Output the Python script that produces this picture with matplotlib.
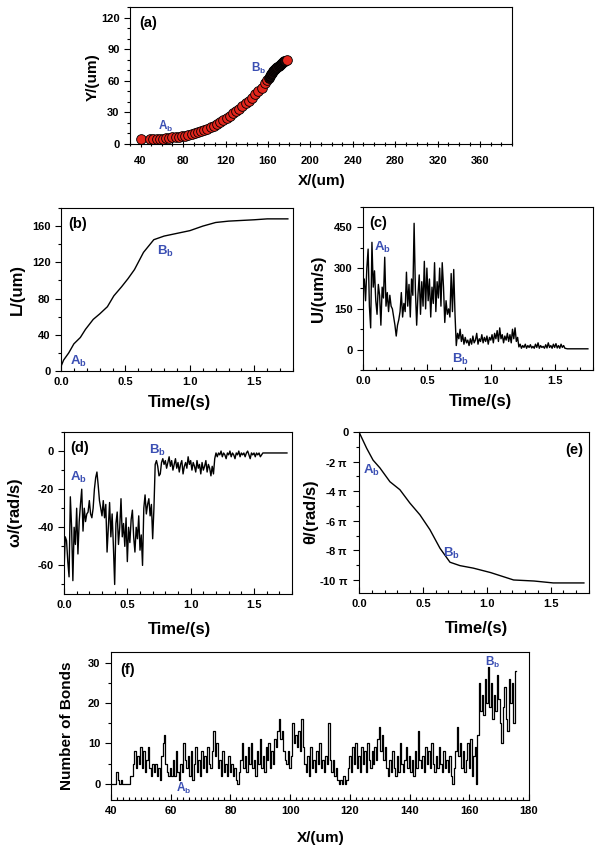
import numpy as np
import matplotlib
matplotlib.use('Agg')
import matplotlib.pyplot as plt
from matplotlib.ticker import MultipleLocator, FixedLocator, FixedFormatter, FormatStrFormatter

plt.rcParams['font.family'] = ['Liberation Sans', 'DejaVu Sans']
plt.rcParams['font.weight'] = 'bold'
plt.rcParams['axes.labelweight'] = 'bold'
plt.rcParams['axes.unicode_minus'] = False
plt.rcParams['mathtext.fontset'] = 'custom'
plt.rcParams['mathtext.rm'] = 'Liberation Sans'
plt.rcParams['mathtext.it'] = 'Liberation Sans:italic'
plt.rcParams['mathtext.bf'] = 'Liberation Sans:bold'

# ---------------- data ----------------
# (a) trajectory
xa_red = [40, 49, 52, 55, 58, 61, 64, 67, 70, 73, 76, 79, 82, 85, 88, 91, 94, 97, 100,
          103, 106, 109, 112, 115, 118, 121, 124, 127, 130, 133, 136, 139, 142, 145,
          148, 151, 154, 157, 159]
ya_red = [5, 5, 5, 5, 5, 5.2, 5.5, 6, 6.3, 6.6, 7, 7.5, 8, 8.5, 9.3, 10, 11, 12, 13,
          14.3, 15.8, 17.3, 19, 20.8, 22.7, 24.6, 26.8, 29, 31.3, 33.6, 36, 38.6, 41.2, 44,
          47, 50, 53.5, 57.5, 60.6]
xa_dark = [161, 162, 163, 164, 165, 166, 167, 168, 169, 170, 171, 172, 173, 174, 175, 176]
ya_dark = [63, 64.5, 66, 67.5, 68.8, 70, 71.2, 72.3, 73.4, 74.4, 75.3, 76.2, 77, 77.8, 78.5, 79.2]
xa_end = [177.5]
ya_end = [79.8]

# (b) L vs time
t_b = [0, 0.02, 0.06, 0.10, 0.15, 0.19, 0.25, 0.30, 0.36, 0.41, 0.47, 0.52, 0.57, 0.64,
       0.72, 0.80, 0.90, 1.00, 1.10, 1.20, 1.30, 1.50, 1.60, 1.76]
L_b = [5, 12, 20, 30, 37, 46, 57, 63, 71, 83, 93, 102, 112, 131, 145, 149, 152, 155, 160,
       164, 165.5, 167, 168, 168]

# (c) U vs time (sampled every 0.01 s)
U_c = [225, 260, 180, 300, 370, 160, 80, 395, 230, 290,
       180, 130, 240, 200, 90, 230, 190, 340, 160, 210,
       140, 200, 160, 150, 120, 90, 50, 90, 110, 140,
       210, 120, 170, 140, 285, 160, 240, 120, 260, 200,
       465, 220, 90, 200, 275, 130, 250, 160, 325, 150,
       300, 180, 260, 120, 230, 170, 320, 140, 250, 190,
       300, 160, 320, 230, 100, 180, 130, 150, 120, 280,
       140, 295, 130, 15, 60, 40, 75, 30, 55, 20,
       45, 25, 35, 15, 40, 20, 50, 25, 35, 60,
       20, 40, 30, 55, 25, 45, 30, 50, 20, 45,
       35, 55, 25, 60, 40, 70, 30, 80, 40, 55,
       25, 50, 35, 60, 30, 55, 25, 75, 40, 80,
       30, 45, 10, 20, 5, 15, 8, 20, 5, 15,
       8, 18, 6, 12, 5, 20, 8, 25, 5, 15,
       8, 12, 5, 18, 6, 25, 8, 15, 5, 20,
       8, 22, 6, 15, 5, 20, 8, 15, 5, 4,
       3, 3, 3, 3, 3, 3, 3, 3, 3, 3,
       3, 3, 3, 3, 3, 3, 3]

# (d) omega vs time (sampled every 0.01 s)
w_d = [-63, -45, -47, -58, -66, -24, -40, -68, -40, -49,
       -30, -54, -37, -28, -20, -42, -30, -37, -33, -32,
       -26, -33, -35, -30, -20, -14, -11, -18, -26, -30,
       -34, -26, -35, -28, -53, -40, -27, -45, -33, -50,
       -70, -38, -32, -49, -40, -25, -45, -38, -50, -35,
       -58, -40, -48, -36, -31, -45, -53, -40, -46, -34,
       -52, -44, -60, -30, -23, -33, -28, -25, -34, -28,
       -46, -30, -7, -5, -8, -13, -12, -6, -4, -7,
       -5, -9, -6, -3, -8, -5, -10, -7, -4, -9,
       -6, -11, -7, -5, -12, -8, -6, -9, -3, -7,
       -5, -10, -6, -8, -11, -5, -9, -7, -12, -6,
       -10, -8, -5, -11, -7, -9, -13, -8, -12, -4,
       -1, -3, -1, -2, 0, -3, -1, -2, -4, -1,
       -2, 0, -3, -1, -2, -4, -1, -2, 0, -3,
       -1, -2, -1, -3, -1, 0, -2, -4, -1, -2,
       -1, -3, -1, -2, -1, -3, -2, -1, -1, -1,
       -1, -1, -1, -1, -1, -1, -1, -1, -1, -1,
       -1, -1, -1, -1, -1, -1, -1]
dt = 0.01

# (e) theta vs time (theta in units of pi)
t_e = [0, 0.06, 0.11, 0.164, 0.242, 0.32, 0.398, 0.477, 0.555, 0.634, 0.712, 0.79,
       0.895, 1.03, 1.21, 1.37, 1.52, 1.76]
th_e = [0, -1.1, -1.9, -2.43, -3.36, -3.9, -4.8, -5.6, -6.6, -7.86, -8.8, -9.03,
        -9.2, -9.5, -10.0, -10.07, -10.2, -10.2]

# (f) number of bonds vs X (sampled every 0.5 um from 40)
N_f = [0, 0, 0, 0, 3, 1, 0, 1, 0, 0,
       0, 0, 0, 2, 2, 5, 8, 4, 7, 5,
       9, 4, 8, 3, 6, 9, 4, 2, 5, 3,
       5, 2, 4, 1, 7, 10, 12, 5, 3, 2,
       4, 2, 6, 2, 8, 3, 1, 5, 3, 10,
       6, 4, 7, 2, 8, 1, 5, 9, 3, 6,
       2, 8, 4, 7, 3, 9, 5, 4, 8, 13,
       7, 10, 4, 6, 2, 8, 3, 5, 2, 7,
       3, 5, 2, 4, 1, 0, 3, 6, 10, 4,
       7, 3, 9, 5, 10, 4, 6, 2, 8, 5,
       11, 4, 7, 3, 9, 6, 10, 4, 8, 5,
       11, 9, 13, 16, 11, 13, 8, 6, 5, 8,
       4, 7, 15, 10, 12, 9, 13, 8, 16, 9,
       5, 3, 7, 2, 9, 4, 6, 3, 8, 5,
       10, 4, 6, 3, 7, 5, 15, 6, 3, 6,
       2, 4, 1, 0, 1, 0, 2, 0, 1, 4,
       7, 3, 9, 5, 10, 4, 7, 3, 9, 5,
       8, 3, 10, 6, 4, 8, 5, 9, 6, 11,
       14, 8, 12, 6, 9, 4, 2, 6, 3, 8,
       4, 2, 7, 3, 10, 5, 3, 6, 9, 4,
       7, 3, 6, 2, 8, 4, 13, 6, 4, 7,
       3, 9, 5, 8, 4, 10, 5, 3, 7, 4,
       9, 5, 3, 8, 4, 6, 3, 7, 2, 0,
       4, 8, 14, 7, 10, 4, 8, 3, 6, 10,
       4, 11, 2, 7, 9, 0, 12, 25, 18, 22,
       17, 26, 20, 29, 19, 25, 16, 22, 18, 27,
       21, 15, 10, 19, 24, 16, 13, 26, 20, 25,
       15, 28]
x0_f, dx_f = 40.0, 0.5

t_c = np.arange(len(U_c)) * dt
t_d = np.arange(len(w_d)) * dt
X_f = x0_f + np.arange(len(N_f)) * dx_f

# ---------------- styling ----------------
RED = '#e3261c'
BLUE = '#3b4fb3'
W, H = 602, 856

fig = plt.figure(figsize=(W / 100, H / 100), dpi=100)


def box(l, r, t, b):
    return [l / W, 1 - b / H, (r - l) / W, (b - t) / H]


def style(ax, xdir='in'):
    ax.tick_params(axis='x', which='both', direction=xdir, labelsize=8, pad=4)
    ax.tick_params(axis='y', which='both', direction='out', labelsize=8)
    ax.tick_params(which='major', length=4, width=0.8)
    ax.tick_params(which='minor', length=2.5, width=0.8)
    for s in ax.spines.values():
        s.set_linewidth(0.8)


def time_axis(ax):
    ax.set_xlim(0, 1.8)
    ax.xaxis.set_major_locator(FixedLocator([0.0, 0.5, 1.0, 1.5]))
    ax.xaxis.set_major_formatter(FormatStrFormatter('%.1f'))
    ax.xaxis.set_minor_locator(MultipleLocator(0.1))


def sub(letter):
    return r'$\mathbf{%s}_\mathbf{b}$' % letter


# (a)
ax = fig.add_axes(box(130, 512, 7, 144))
ax.plot(xa_red, ya_red, 'o', mfc=RED, mec='black', ms=7, mew=0.6)
ax.plot(xa_dark, ya_dark, 'o', mfc='#1a0808', mec='black', ms=7, mew=0.6)
ax.plot(xa_end, ya_end, 'o', mfc=RED, mec='black', ms=7, mew=0.6)
ax.set_xlim(30, 390)
ax.set_ylim(0, 130)
ax.xaxis.set_major_locator(FixedLocator(list(range(40, 361, 40))))
ax.xaxis.set_minor_locator(MultipleLocator(10))
ax.yaxis.set_major_locator(FixedLocator([0, 30, 60, 90, 120]))
ax.yaxis.set_minor_locator(MultipleLocator(10))
style(ax, xdir='inout')
ax.tick_params(axis='x', which='major', length=5, pad=6)
ax.tick_params(axis='x', which='minor', length=3)
ax.set_xlabel('X/(um)', fontsize=11)
ax.set_ylabel('Y/(um)', fontsize=11)
ax.xaxis.set_label_coords(0.502, -0.22)
ax.yaxis.set_label_coords(-0.079, 0.49)
ax.text(0.024, 0.88, '(a)', transform=ax.transAxes, fontsize=10.5, va='center', ha='left')
ax.text(64, 17, sub('A'), color=BLUE, fontsize=8.5, ha='center', va='center')
ax.text(151, 72, sub('B'), color=BLUE, fontsize=8.5, ha='center', va='center')

# (b)
ax = fig.add_axes(box(61, 293, 208, 371))
ax.plot(t_b, L_b, color='black', lw=1.0)
time_axis(ax)
ax.set_ylim(0, 180)
ax.yaxis.set_major_locator(FixedLocator([0, 40, 80, 120, 160]))
ax.yaxis.set_minor_locator(MultipleLocator(20))
style(ax)
ax.set_xlabel('Time/(s)', fontsize=12)
ax.set_ylabel('L/(um)', fontsize=12)
ax.xaxis.set_label_coords(0.51, -0.15)
ax.yaxis.set_label_coords(-0.157, 0.5)
ax.text(0.031, 0.9, '(b)', transform=ax.transAxes, fontsize=10.5, va='center', ha='left')
ax.text(0.135, 10, sub('A'), color=BLUE, fontsize=9.5, ha='center', va='center')
ax.text(0.81, 132, sub('B'), color=BLUE, fontsize=9.5, ha='center', va='center')

# (c)
ax = fig.add_axes(box(363, 593, 207, 370))
ax.plot(t_c, U_c, color='black', lw=1.0)
time_axis(ax)
ax.set_ylim(-75, 525)
ax.yaxis.set_major_locator(FixedLocator([0, 150, 300, 450]))
ax.yaxis.set_minor_locator(MultipleLocator(75))
style(ax)
ax.set_xlabel('Time/(s)', fontsize=12)
ax.set_ylabel('U/(um/s)', fontsize=12)
ax.xaxis.set_label_coords(0.51, -0.15)
ax.yaxis.set_label_coords(-0.16, 0.5)
ax.text(0.027, 0.9, '(c)', transform=ax.transAxes, fontsize=10.5, va='center', ha='left')
ax.text(0.154, 377, sub('A'), color=BLUE, fontsize=9.5, ha='center', va='center')
ax.text(0.763, -35, sub('B'), color=BLUE, fontsize=9.5, ha='center', va='center')

# (d)
ax = fig.add_axes(box(64, 292, 432, 594))
ax.plot(t_d, w_d, color='black', lw=1.0)
time_axis(ax)
ax.set_ylim(-75, 10)
ax.yaxis.set_major_locator(FixedLocator([-60, -40, -20, 0]))
ax.yaxis.set_minor_locator(MultipleLocator(10))
style(ax)
ax.set_xlabel('Time/(s)', fontsize=12)
ax.set_ylabel(r'$\mathrm{\omega}$/(rad/s)', fontsize=12)
ax.xaxis.set_label_coords(0.507, -0.17)
ax.yaxis.set_label_coords(-0.173, 0.5)
ax.text(0.029, 0.9, '(d)', transform=ax.transAxes, fontsize=10.5, va='center', ha='left')
ax.text(0.113, -14, sub('A'), color=BLUE, fontsize=9.5, ha='center', va='center')
ax.text(0.74, 0.2, sub('B'), color=BLUE, fontsize=9.5, ha='center', va='center')

# (e)
ax = fig.add_axes(box(359, 589, 432, 593))
ax.plot(t_e, np.array(th_e) * np.pi, color='black', lw=1.0)
time_axis(ax)
ax.set_ylim(-10.88 * np.pi, 0)
yt = [0, -2, -4, -6, -8, -10]
ax.yaxis.set_major_locator(FixedLocator([v * np.pi for v in yt]))
ax.yaxis.set_major_formatter(FixedFormatter(['0'] + [r'%d $\mathrm{\pi}$' % v for v in yt[1:]]))
ax.yaxis.set_minor_locator(FixedLocator([v * np.pi for v in [-1, -3, -5, -7, -9]]))
style(ax)
ax.set_xlabel('Time/(s)', fontsize=12)
ax.set_ylabel(r'$\mathrm{\theta}$/(rad/s)', fontsize=12)
ax.xaxis.set_label_coords(0.51, -0.177)
ax.yaxis.set_label_coords(-0.164, 0.5)
ax.text(0.975, 0.89, '(e)', transform=ax.transAxes, fontsize=10.5, va='center', ha='right')
ax.text(0.1, -2.6 * np.pi, sub('A'), color=BLUE, fontsize=9.5, ha='center', va='center')
ax.text(0.72, -8.2 * np.pi, sub('B'), color=BLUE, fontsize=9.5, ha='center', va='center')

# (f)
ax = fig.add_axes(box(111, 529, 652, 800))
ax.plot(X_f, N_f, color='black', lw=0.9, drawstyle='steps-mid')
ax.set_xlim(40, 180)
ax.set_ylim(-4, 32.6)
ax.xaxis.set_major_locator(FixedLocator(list(range(40, 181, 20))))
ax.xaxis.set_minor_locator(MultipleLocator(2))
ax.yaxis.set_major_locator(FixedLocator([0, 10, 20, 30]))
ax.yaxis.set_minor_locator(MultipleLocator(5))
style(ax)
ax.set_xlabel('X/(um)', fontsize=11)
ax.set_ylabel('Number of Bonds', fontsize=11)
ax.xaxis.set_label_coords(0.501, -0.21)
ax.yaxis.set_label_coords(-0.088, 0.5)
ax.text(0.023, 0.88, '(f)', transform=ax.transAxes, fontsize=10.5, va='center', ha='left')
ax.text(64.2, -1.1, sub('A'), color=BLUE, fontsize=8.5, ha='center', va='center')
ax.text(167.7, 30.1, sub('B'), color=BLUE, fontsize=8.5, ha='center', va='center')

fig.savefig('out.png', dpi=100)
